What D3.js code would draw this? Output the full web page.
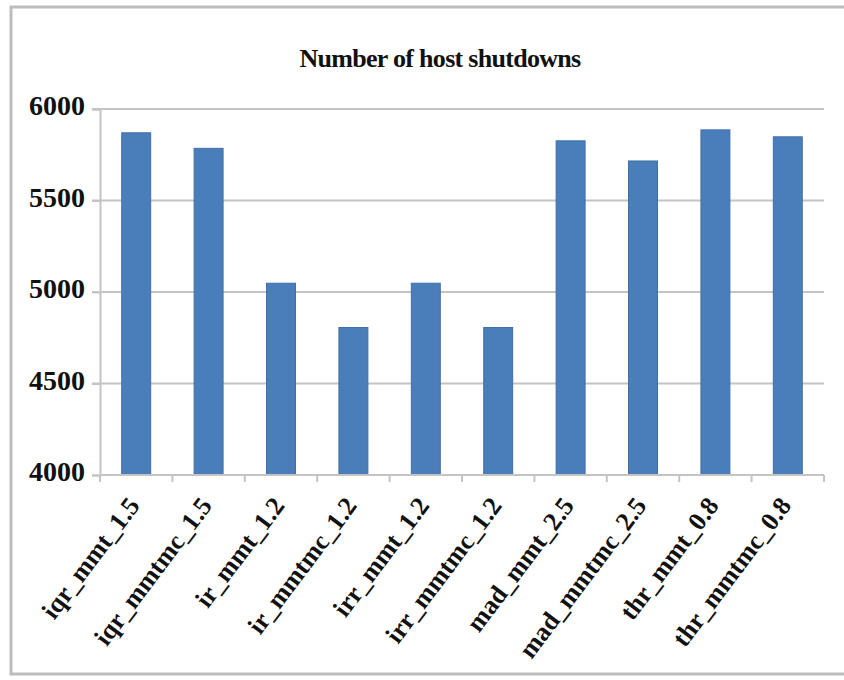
<!DOCTYPE html>
<html>
<head>
<meta charset="utf-8">
<script src="https://cdn.jsdelivr.net/npm/d3@7"></script>
<style>
  html, body { margin: 0; padding: 0; background: #ffffff; }
  svg { display: block; }
</style>
</head>
<body>
<svg id="chart" width="844" height="680"></svg>
<script>
// Host shutdown counts per VM consolidation policy
const categories = [
  "iqr_mmt_1.5", "iqr_mmtmc_1.5", "ir_mmt_1.2", "ir_mmtmc_1.2", "irr_mmt_1.2",
  "irr_mmtmc_1.2", "mad_mmt_2.5", "mad_mmtmc_2.5", "thr_mmt_0.8", "thr_mmtmc_0.8"
];
const shutdowns = [5870, 5785, 5048, 4806, 5048, 4806, 5826, 5716, 5886, 5848];
const yTicks = [4000, 4500, 5000, 5500, 6000];
const chartTitle = "Number of host shutdowns";

const svg = d3.select("#chart");
const W = 844, H = 680;
const plot = { left: 100, right: 824, top: 109, bottom: 475 };
const serif = "'Liberation Serif', 'Times New Roman', serif";

// outer frame
svg.append("rect")
  .attr("x", 11).attr("y", 7)
  .attr("width", W + 10).attr("height", H - 13)
  .attr("fill", "none").attr("stroke", "#bdbdbd").attr("stroke-width", 3);

const x = d3.scaleBand()
  .domain(categories)
  .range([plot.left, plot.right])
  .paddingInner(0.6)
  .paddingOuter(0.3);

const y = d3.scaleLinear()
  .domain([4000, 6000])
  .range([plot.bottom, plot.top]);

// horizontal gridlines
svg.append("g")
  .selectAll("line")
  .data(yTicks.filter(t => t > 4000))
  .join("line")
  .attr("x1", plot.left - 8).attr("x2", plot.right)
  .attr("y1", d => y(d)).attr("y2", d => y(d))
  .attr("stroke", "#c4c4c4").attr("stroke-width", 2);

// y axis
const yAxis = svg.append("g")
  .attr("transform", `translate(${plot.left},0)`)
  .call(d3.axisLeft(y).tickValues(yTicks).tickSize(8).tickPadding(7).tickFormat(d3.format("d")));
yAxis.select(".domain").attr("stroke", "#c4c4c4").attr("stroke-width", 2);
yAxis.selectAll(".tick line").attr("stroke", "#c4c4c4").attr("stroke-width", 2);
yAxis.selectAll(".tick text")
  .attr("fill", "#111")
  .attr("font-family", serif)
  .attr("font-weight", "bold")
  .attr("font-size", 28)
  .attr("dy", "0.2em");

// bars
svg.append("g")
  .selectAll("rect")
  .data(categories.map((c, i) => ({ c, v: shutdowns[i] })))
  .join("rect")
  .attr("x", d => x(d.c))
  .attr("y", d => y(d.v))
  .attr("width", x.bandwidth())
  .attr("height", d => y(4000) - y(d.v))
  .attr("fill", "#4a7ebb")
  .attr("stroke", "#3f6fa8")
  .attr("stroke-width", 1);

// x axis with ticks at category boundaries
const step = x.step();
const bounds = d3.range(categories.length + 1).map(i => plot.left + i * step);
const xAxis = svg.append("g");
xAxis.append("line")
  .attr("x1", plot.left).attr("x2", plot.right)
  .attr("y1", plot.bottom).attr("y2", plot.bottom)
  .attr("stroke", "#c4c4c4").attr("stroke-width", 2);
xAxis.selectAll("line.tk")
  .data(bounds)
  .join("line").attr("class", "tk")
  .attr("x1", d => d).attr("x2", d => d)
  .attr("y1", plot.bottom).attr("y2", plot.bottom + 7)
  .attr("stroke", "#c4c4c4").attr("stroke-width", 2);

// rotated category labels
svg.append("g")
  .selectAll("text")
  .data(categories)
  .join("text")
  .attr("transform", d => `translate(${x(d) + x.bandwidth() / 2 - 10},${plot.bottom + 20}) rotate(-53)`)
  .attr("text-anchor", "end")
  .attr("dy", "0.7em")
  .attr("fill", "#111")
  .attr("font-family", serif)
  .attr("font-weight", "bold")
  .attr("font-size", 26)
  .text(d => d);

// title
svg.append("text")
  .attr("x", 440).attr("y", 67)
  .attr("text-anchor", "middle")
  .attr("fill", "#111")
  .attr("font-family", serif)
  .attr("font-weight", "bold")
  .attr("font-size", 26)
  .attr("letter-spacing", "-0.7")
  .text(chartTitle);
</script>
</body>
</html>
